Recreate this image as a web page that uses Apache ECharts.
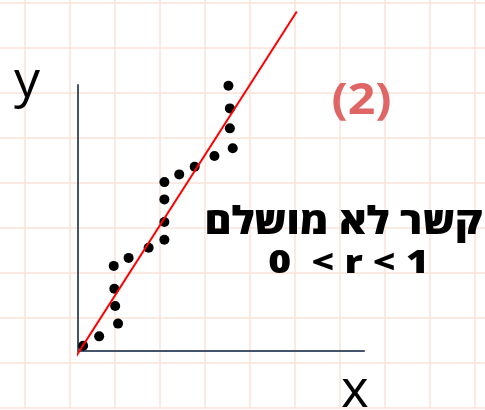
<!DOCTYPE html>
<html>
<head>
<meta charset="utf-8">
<script src="https://cdn.jsdelivr.net/npm/echarts@6/dist/echarts.min.js"></script>
<style>
html,body{margin:0;padding:0;background:#fff;}
#chart{width:485px;height:410px;}
</style>
</head>
<body>
<div id="chart"></div>
<script>
// Scatter points (x, y) in chart units (axes run 0..10)
const pointsX = [5.26, 5.31, 5.31, 5.41, 4.77, 4.08, 3.54, 3.02, 3.02, 3.02, 3.02, 2.47, 1.77, 1.25, 1.27, 1.30, 1.40, 0.74, 0.18];
const pointsY = [9.97, 9.12, 8.37, 7.62, 7.33, 6.93, 6.64, 6.35, 5.70, 4.85, 4.18, 3.88, 3.50, 3.20, 2.34, 1.69, 1.03, 0.55, 0.20];
// Fitted line end points
const lineX = [-0.77, 7.65];
const lineY = [-1.38, 12.76];
// Texts
const axisNameY = 'y';
const axisNameX = 'x';
const panelLabel = '(2)';
const titleLine1 = 'קשר לא מושלם';
const titleLine2 = '0  < r < 1';

const chart = echarts.init(document.getElementById('chart'), null, {renderer: 'canvas'});
const font = '"Open Sans", "Noto Sans", "DejaVu Sans", sans-serif';

const option = {
  animation: false,
  backgroundColor: '#ffffff',
  grid: [
    {left: -20, top: -42, width: 540, height: 450, show: false, outerBoundsMode: 'none', containLabel: false},
    {left: 78, top: 85, width: 286, height: 266, show: false, outerBoundsMode: 'none', containLabel: false}
  ],
  xAxis: [
    {gridIndex: 0, type: 'value', min: 0, max: 12, interval: 1,
     axisLine: {show: false}, axisTick: {show: false}, axisLabel: {show: false},
     splitLine: {show: true, lineStyle: {color: '#fae3d7', width: 1.5}}},
    {gridIndex: 1, type: 'value', min: 0, max: 10,
     axisLine: {show: true, onZero: false, lineStyle: {color: '#44546a', width: 2}},
     axisTick: {show: false}, axisLabel: {show: false}, splitLine: {show: false}}
  ],
  yAxis: [
    {gridIndex: 0, type: 'value', min: 0, max: 10, interval: 1,
     axisLine: {show: false}, axisTick: {show: false}, axisLabel: {show: false},
     splitLine: {show: true, lineStyle: {color: '#fae3d7', width: 1.5}}},
    {gridIndex: 1, type: 'value', min: 0, max: 10,
     axisLine: {show: true, onZero: false, lineStyle: {color: '#44546a', width: 2}},
     axisTick: {show: false}, axisLabel: {show: false}, splitLine: {show: false}}
  ],
  series: [
    {
      type: 'scatter', xAxisIndex: 1, yAxisIndex: 1,
      data: pointsX.map((x, i) => [x, pointsY[i]]),
      symbol: 'circle', symbolSize: 10,
      itemStyle: {color: '#000000', opacity: 1},
      silent: true, z: 3
    },
    {
      type: 'line', xAxisIndex: 1, yAxisIndex: 1,
      data: lineX.map((x, i) => [x, lineY[i]]),
      symbol: 'none', clip: false,
      lineStyle: {color: '#ff0000', width: 2},
      silent: true, z: 4
    }
  ],
  graphic: {
    elements: [
      {type: 'text', z: 100, x: 14, y: 56, style: {text: axisNameY, font: 'normal 52px ' + font, fill: '#000000'}},
      {type: 'text', z: 100, x: 341, y: 365, style: {text: axisNameX, font: 'normal 53px ' + font, fill: '#000000'}},
      {type: 'text', z: 100, x: 361.5, y: 102, scaleX: 1.12, style: {text: panelLabel, font: 'bold 43px ' + font, fill: '#e06666', align: 'center', verticalAlign: 'middle'}},
      {type: 'text', z: 100, x: 343.5, y: 223, scaleX: 1.08, style: {text: titleLine1, font: '800 38px ' + font, fill: '#000000', align: 'center', verticalAlign: 'middle'}},
      {type: 'text', z: 100, x: 348.5, y: 263.5, scaleX: 1.22, style: {text: titleLine2, font: '800 32px ' + font, fill: '#000000', align: 'center', verticalAlign: 'middle'}}
    ]
  }
};
chart.setOption(option);
</script>
</body>
</html>
